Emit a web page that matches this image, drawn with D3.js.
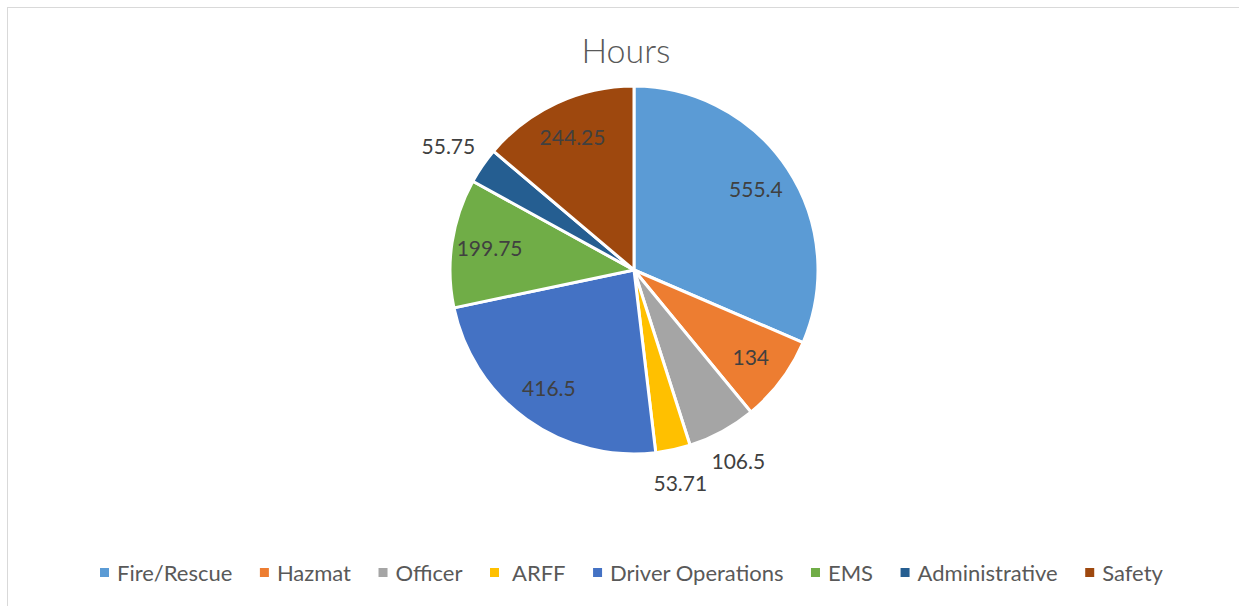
<!DOCTYPE html>
<html>
<head>
<meta charset="utf-8">
<script src="https://cdn.jsdelivr.net/npm/d3@7"></script>
<style>
  body { margin: 0; background: #fff; }
  svg { display: block; font-family: Lato, "Open Sans", sans-serif; }
</style>
</head>
<body>
<svg id="chart" width="1239" height="606"></svg>
<script>
var categories = ['Fire/Rescue', 'Hazmat', 'Officer', 'ARFF', 'Driver Operations', 'EMS', 'Administrative', 'Safety'];
var hours = [555.4, 134, 106.5, 53.71, 416.5, 199.75, 55.75, 244.25];
var labels = ['555.4', '134', '106.5', '53.71', '416.5', '199.75', '55.75', '244.25'];
var outside = [false, false, true, true, false, false, true, false];
var colors = ['#5B9BD5', '#ED7D31', '#A5A5A5', '#FFC000', '#4472C4', '#70AD47', '#255E91', '#9E480E'];

var
  svg = d3.select('#chart'),
  cx = 634, cy = 270, radius = 184
  ;

// frame
svg.append('rect')
  .attr('x', 7.5).attr('y', 7.5)
  .attr('width', 1260).attr('height', 640)
  .attr('fill', 'none')
  .attr('stroke', '#d9d9d9')
  .attr('stroke-width', 1);

svg.append('text')
  .attr('x', 626).attr('y', 63)
  .attr('text-anchor', 'middle')
  .attr('font-size', 34)
  .attr('font-weight', 300)
  .attr('fill', '#595959')
  .text('Hours');

var data = categories.map(function(c, i){
  return {name: c, value: hours[i], label: labels[i], out: outside[i], color: colors[i]};
});

var pie = d3.pie().sort(null).value(function(d){ return d.value; });
var arc = d3.arc().innerRadius(0).outerRadius(radius);
var inArc = d3.arc().innerRadius(146).outerRadius(146);
var outArc = d3.arc().innerRadius(218).outerRadius(218);

var g = svg.append('g').attr('transform', 'translate(' + cx + ',' + cy + ')');
var arcs = pie(data);

g.selectAll('path')
  .data(arcs)
  .enter().append('path')
  .attr('d', arc)
  .attr('fill', function(d){ return d.data.color; })
  .attr('stroke', '#fff')
  .attr('stroke-width', 3)
  .attr('stroke-linejoin', 'round');

g.selectAll('text.lbl')
  .data(arcs)
  .enter().append('text')
  .attr('class', 'lbl')
  .attr('transform', function(d){
    var p = (d.data.out ? outArc : inArc).centroid(d);
    // administrative label sits a bit further left in the original
    if (d.data.name === 'Administrative') p[0] -= 6;
    return 'translate(' + p[0] + ',' + p[1] + ')';
  })
  .attr('text-anchor', 'middle')
  .attr('dy', '0.36em')
  .attr('font-size', 21)
  .attr('fill', '#404040')
  .text(function(d){ return d.data.label; });

// legend
var legend = svg.append('g').attr('transform', 'translate(0,573)');
var items = legend.selectAll('g')
  .data(data)
  .enter().append('g');

items.append('rect')
  .attr('width', 9).attr('height', 9)
  .attr('y', -5)
  .attr('fill', function(d){ return d.color; });

items.append('text')
  .attr('x', function(d){ return d.name === 'ARFF' ? 22 : 17; })
  .attr('dy', '0.36em')
  .attr('font-size', 22)
  .attr('fill', '#595959')
  .text(function(d){ return d.name; });

var x = 100, widths = [];
items.each(function(d){
  var w = d3.select(this).select('text').node().getComputedTextLength() + (d.name === 'ARFF' ? 22 : 17);
  widths.push(w);
});
var spacing = 27.5;
items.attr('transform', function(d, i){
  var t = 'translate(' + x + ',0)';
  x += widths[i] + spacing;
  return t;
});
</script>
</body>
</html>
